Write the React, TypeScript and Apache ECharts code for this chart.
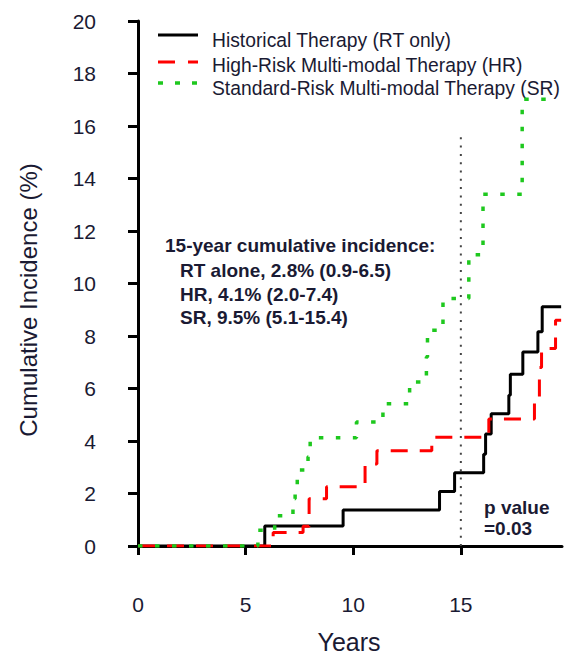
import React, { useEffect, useRef } from "react";
import * as echarts from "echarts";

// Cumulative incidence step curves (years, %)
const rtTimes = [0, 5.89, 9.53, 14.01, 14.71, 16.06, 16.15, 16.41, 17.23, 17.3, 17.88, 18.58, 18.78, 19.66];
const rtValues = [0, 0.76, 1.37, 2.08, 2.79, 3.5, 4.27, 5.04, 5.74, 6.54, 7.39, 8.16, 9.11, 9.11];

const hrTimes = [0, 6.28, 7.67, 7.95, 8.76, 10.55, 11.1, 13.65, 16.3, 18.42, 18.65, 18.75, 19.4, 19.66];
const hrValues = [0, 0.51, 0.75, 1.8, 2.26, 3.12, 3.63, 4.14, 4.84, 5.67, 6.8, 7.52, 8.6, 8.6];

const srTimes = [0, 5.57, 6.35, 7.2, 7.3, 7.4, 7.9, 8.0, 10.15, 11.38, 12.62, 13.4, 13.45, 14.17, 15.37, 16.03, 17.85, 19.27];
const srValues = [0, 0.6, 1.15, 1.8, 2.35, 2.9, 3.4, 4.12, 4.72, 5.42, 6.25, 7.2, 8.22, 9.43, 11.1, 13.4, 17.02, 17.02];

// 15-year reference line
const refX = 15;
const refTop = 15.8;

const xTicks = [0, 5, 10, 15];
const seriesNames = [
  "Historical Therapy (RT only)",
  "High-Risk Multi-modal Therapy (HR)",
  "Standard-Risk Multi-modal Therapy (SR)",
];
const annotationTitle = "15-year cumulative incidence:";
const annotationLines = ["RT alone, 2.8% (0.9-6.5)", "HR, 4.1% (2.0-7.4)", "SR, 9.5% (5.1-15.4)"];
const pValueLines = ["p value", "=0.03"];

const FONT = "'Liberation Sans', Arial, Helvetica, sans-serif";
const TXT = "#1a1a33";
const RED = "#ff0000";
const GREEN = "#1ec81e";

const toPairs = (t: number[], v: number[]) => t.map((x, i) => [x, v[i]]);

export default function App() {
  const ref = useRef<HTMLDivElement>(null);

  useEffect(() => {
    document.body.style.margin = "0";
    const chart = echarts.init(ref.current!, null, { renderer: "svg" });

    const legendStyles = [
      { stroke: "#000", lineWidth: 3, lineDash: null as any },
      { stroke: RED, lineWidth: 3, lineDash: [17, 13] },
      { stroke: GREEN, lineWidth: 3.5, lineDash: [5, 12] },
    ];
    const legendLineY = [35, 62, 83];
    const legendTextY = [40, 65, 88];

    const graphic: any[] = [];
    seriesNames.forEach((name, i) => {
      graphic.push({
        type: "line",
        shape: { x1: 158, y1: legendLineY[i], x2: 198, y2: legendLineY[i] },
        style: legendStyles[i],
      });
      graphic.push({
        type: "text",
        x: 212,
        y: legendTextY[i],
        style: { text: name, fontSize: 19.3, fontFamily: FONT, fill: TXT, verticalAlign: "middle" },
      });
    });
    graphic.push({
      type: "text",
      x: 165,
      y: 245,
      style: { text: annotationTitle, fontSize: 19, fontWeight: "bold", fontFamily: FONT, fill: TXT, verticalAlign: "middle" },
    });
    const annY = [270, 294, 317];
    annotationLines.forEach((t, i) =>
      graphic.push({
        type: "text",
        x: 180,
        y: annY[i],
        style: { text: t, fontSize: 19, fontWeight: "bold", fontFamily: FONT, fill: TXT, verticalAlign: "middle" },
      })
    );
    const pY = [507, 528];
    pValueLines.forEach((t, i) =>
      graphic.push({
        type: "text",
        x: 484,
        y: pY[i],
        style: { text: t, fontSize: 19, fontWeight: "bold", fontFamily: FONT, fill: TXT, verticalAlign: "middle" },
      })
    );
    graphic.push({
      type: "text",
      x: 28,
      y: 300,
      rotation: Math.PI / 2,
      style: { text: "Cumulative Incidence (%)", fontSize: 24, fontFamily: FONT, fill: TXT, align: "center", verticalAlign: "middle" },
    });
    graphic.push({
      type: "text",
      x: 349,
      y: 642,
      style: { text: "Years", fontSize: 25, fontFamily: FONT, fill: TXT, align: "center", verticalAlign: "middle" },
    });

    chart.setOption({
      animation: false,
      grid: { left: 138, right: 3, top: 21, bottom: 112 },
      xAxis: {
        type: "value",
        min: 0,
        max: 19.7,
        splitLine: { show: false },
        axisLine: { lineStyle: { color: "#000", width: 3 } },
        axisTick: { show: true, length: 9, lineStyle: { color: "#000", width: 3 }, customValues: xTicks },
        axisLabel: { margin: 48, fontSize: 21, fontFamily: FONT, color: TXT, customValues: xTicks },
      },
      yAxis: {
        type: "value",
        min: 0,
        max: 20,
        interval: 2,
        splitLine: { show: false },
        axisLine: { show: true, lineStyle: { color: "#000", width: 3 } },
        axisTick: { show: true, length: 10, lineStyle: { color: "#000", width: 3 } },
        axisLabel: { margin: 42, fontSize: 21, fontFamily: FONT, color: TXT },
      },
      series: [
        {
          type: "line",
          data: [
            [refX, 0],
            [refX, refTop],
          ],
          showSymbol: false,
          symbol: "none",
          lineStyle: { color: "#444", width: 2, type: [2, 6.3] },
          silent: true,
        },
        {
          name: seriesNames[0],
          type: "line",
          step: "end",
          data: toPairs(rtTimes, rtValues),
          showSymbol: false,
          symbol: "none",
          lineStyle: { color: "#000", width: 3 },
        },
        {
          name: seriesNames[1],
          type: "line",
          step: "end",
          data: toPairs(hrTimes, hrValues),
          showSymbol: false,
          symbol: "none",
          lineStyle: { color: RED, width: 3, type: [17, 12] },
        },
        {
          name: seriesNames[2],
          type: "line",
          step: "end",
          data: toPairs(srTimes, srValues),
          showSymbol: false,
          symbol: "none",
          lineStyle: { color: GREEN, width: 3.5, type: [4.5, 12.5] },
        },
      ],
      graphic,
    });

    return () => chart.dispose();
  }, []);

  return <div ref={ref} style={{ width: 565, height: 658 }} />;
}
